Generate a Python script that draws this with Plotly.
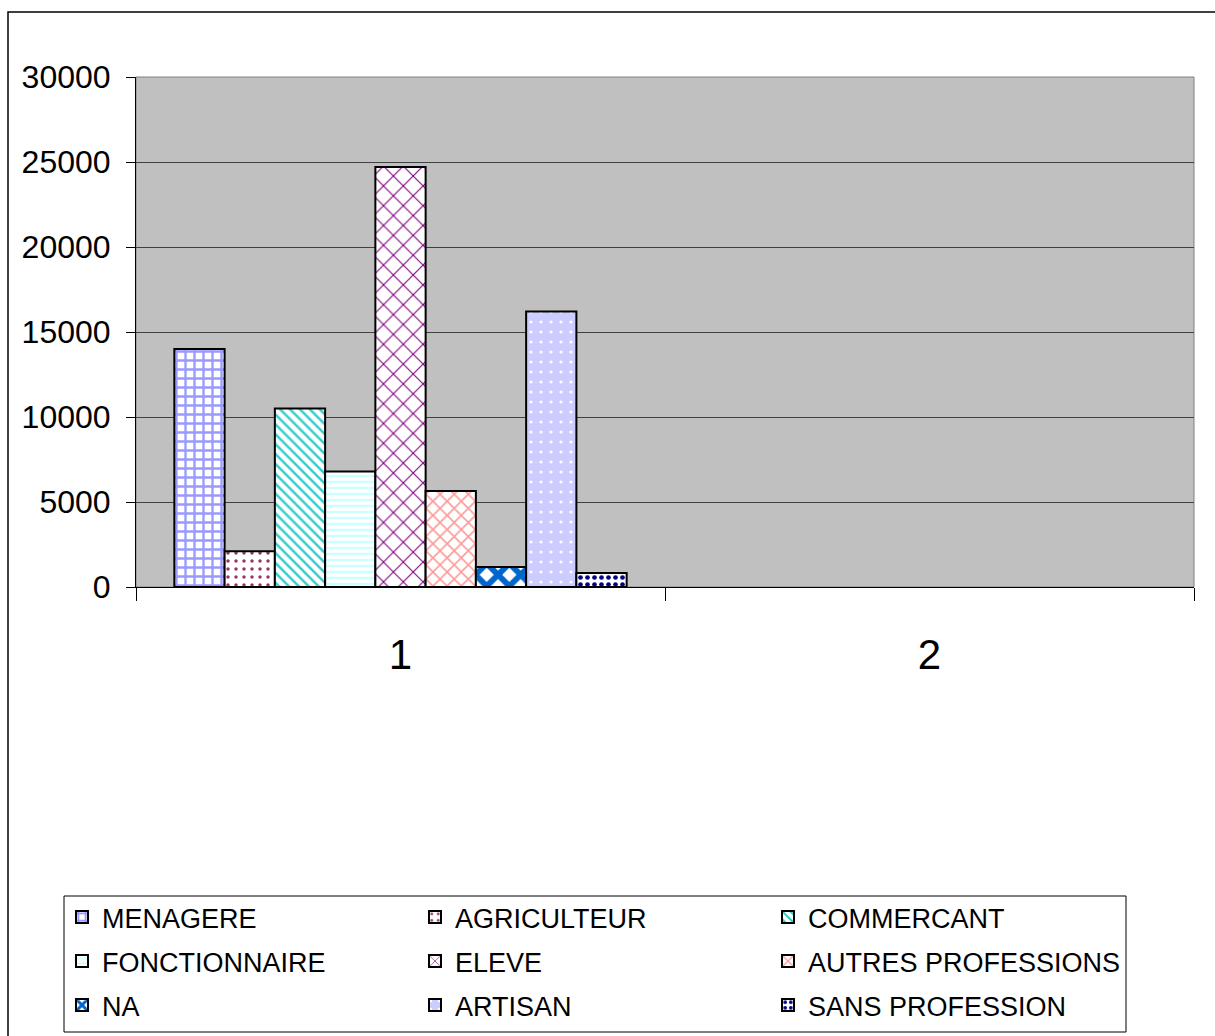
import plotly.graph_objects as go

# Occupation counts per group (group "2" has no data)
groups = ["1", "2"]
professions = [
    "MENAGERE", "AGRICULTEUR", "COMMERCANT",
    "FONCTIONNAIRE", "ELEVE", "AUTRES PROFESSIONS",
    "NA", "ARTISAN", "SANS PROFESSION",
]
counts_group1 = [14000, 2100, 10500, 6800, 24700, 5650, 1180, 16200, 820]
counts_group2 = [None] * 9

y_ticks = [0, 5000, 10000, 15000, 20000, 25000, 30000]

# Fill patterns, one per profession
patterns = [
    dict(shape="+", fgcolor="#9999FF", bgcolor="#FFFFFF", size=9, solidity=0.45),
    dict(shape=".", fgcolor="#993366", bgcolor="#FFFFFF", size=8, solidity=0.15),
    dict(shape="\\", fgcolor="#33CCCC", bgcolor="#FFFFFF", size=7, solidity=0.35),
    dict(shape="-", fgcolor="#CCFFFF", bgcolor="#FFFFFF", size=6, solidity=0.4),
    dict(shape="x", fgcolor="#800080", bgcolor="#FFFFFF", size=14, solidity=0.15),
    dict(shape="x", fgcolor="#FF9999", bgcolor="#FFFFFF", size=10, solidity=0.3),
    dict(shape="x", fgcolor="#0066CC", bgcolor="#FFFFFF", size=16, solidity=0.6),
    dict(shape=".", fgcolor="#FFFFFF", bgcolor="#CCCCFF", size=10, solidity=0.08),
    dict(shape=".", fgcolor="#000080", bgcolor="#FFFFFF", size=7, solidity=0.35),
]

# three legend rows of three entries each
legend_ids = ["legend", "legend2", "legend3"]

fig = go.Figure()
for i, (name, v1, v2, pat) in enumerate(zip(professions, counts_group1, counts_group2, patterns)):
    fig.add_trace(go.Bar(
        name=name,
        x=groups,
        y=[v1, v2],
        legend=legend_ids[i // 3],
        marker=dict(
            color=pat["bgcolor"],
            pattern=dict(fillmode="replace", **pat),
            line=dict(color="#000000", width=2),
        ),
    ))

W, H = 1215, 1036
L, R, T, B = 136, 21, 77, 449
pw, ph = W - L - R, H - T - B


def px_x(x):
    return (x - L) / pw


def px_y(y):
    return (H - B - y) / ph


font = "Liberation Sans, Arial, sans-serif"


def legend_row(top):
    return dict(
        orientation="h",
        xref="container",
        yref="container",
        x=62 / W,
        y=1 - top / H,
        xanchor="left",
        yanchor="top",
        entrywidth=308,
        entrywidthmode="pixels",
        font=dict(family=font, size=27, color="#000000"),
        borderwidth=0,
        bgcolor="rgba(0,0,0,0)",
        traceorder="normal",
    )


fig.update_layout(
    width=W,
    height=H,
    margin=dict(l=L, r=R, t=T, b=B, pad=0, autoexpand=False),
    paper_bgcolor="#FFFFFF",
    plot_bgcolor="#C0C0C0",
    barmode="group",
    bargap=0.145,
    bargroupgap=0,
    font=dict(family=font, color="#000000"),
    showlegend=True,
    legend=legend_row(893),
    legend2=legend_row(937),
    legend3=legend_row(981),
    xaxis=dict(
        type="category",
        categoryorder="array",
        categoryarray=groups,
        range=[-0.5, 1.5],
        showline=True,
        linecolor="#000000",
        linewidth=1,
        ticks="outside",
        tickson="boundaries",
        ticklen=13,
        tickcolor="#000000",
        tickfont=dict(family=font, size=42),
        ticklabelstandoff=31,
        showgrid=False,
        zeroline=False,
    ),
    yaxis=dict(
        range=[0, 30000],
        tickvals=y_ticks,
        tickformat="d",
        showline=True,
        linecolor="#000000",
        linewidth=1,
        ticks="outside",
        ticklen=9,
        tickcolor="#000000",
        tickfont=dict(family=font, size=32),
        ticklabelstandoff=9,
        showgrid=True,
        gridcolor="#404040",
        gridwidth=1,
        zeroline=False,
    ),
    shapes=[
        # plot area frame
        dict(type="rect", xref="paper", yref="paper", x0=0, y0=0, x1=1, y1=1,
             line=dict(color="#808080", width=1), layer="below"),
        # outer chart frame
        dict(type="rect", xref="paper", yref="paper",
             x0=px_x(8), y0=px_y(1045), x1=px_x(1225), y1=px_y(12),
             line=dict(color="#000000", width=1.5)),
        # legend box
        dict(type="rect", xref="paper", yref="paper",
             x0=px_x(64), y0=px_y(1032), x1=px_x(1126), y1=px_y(896),
             line=dict(color="#000000", width=1)),
    ],
)

fig.write_html("out.html")
